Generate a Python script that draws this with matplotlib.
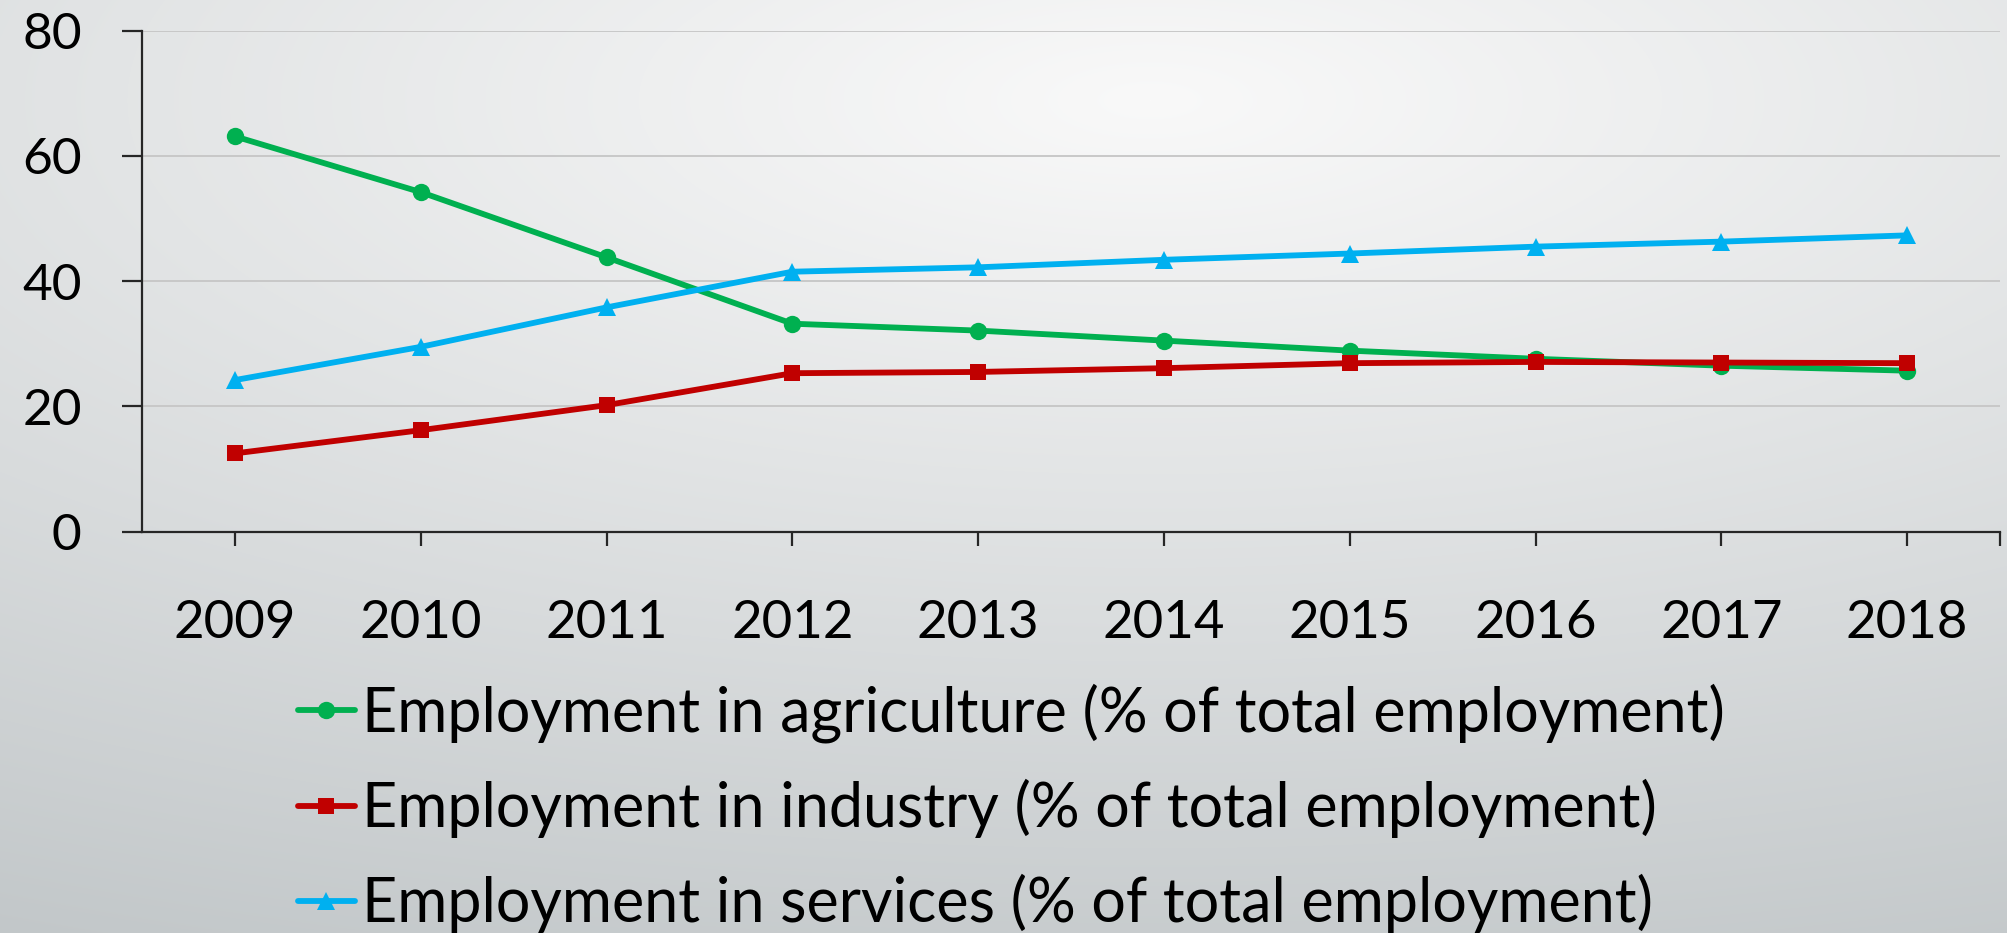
import numpy as np
import matplotlib
matplotlib.use("Agg")
import matplotlib.pyplot as plt

# ---- data ----
years = ["2009", "2010", "2011", "2012", "2013", "2014", "2015", "2016", "2017", "2018"]
agriculture = [63.1, 54.2, 43.8, 33.2, 32.1, 30.5, 28.9, 27.6, 26.5, 25.7]
industry = [12.5, 16.2, 20.2, 25.3, 25.5, 26.1, 26.9, 27.1, 27.0, 26.9]
services = [24.2, 29.5, 35.8, 41.5, 42.2, 43.4, 44.4, 45.5, 46.3, 47.3]
y_ticks = [0, 20, 40, 60, 80]
series_labels = [
    "Employment in agriculture (% of total employment)",
    "Employment in industry (% of total employment)",
    "Employment in services (% of total employment)",
]

W, H = 2007, 933
FONT = ["Lato", "DejaVu Sans"]
plt.rcParams["font.family"] = FONT

fig = plt.figure(figsize=(W / 100, H / 100), dpi=100)

# background radial gradient
bg = fig.add_axes([0, 0, 1, 1], zorder=-10)
yy, xx = np.mgrid[0:H, 0:W]
t = np.sqrt(((xx - 1150) * 0.000391) ** 2 + ((yy - 100) * 0.00107) ** 2)
t = np.clip(t, 0, 1)
c0 = np.array([249, 249, 249]) / 255.0
c1 = np.array([194, 199, 201]) / 255.0
img = c0 + (c1 - c0) * t[..., None]
bg.imshow(img, aspect="auto", extent=[0, 1, 0, 1])
bg.axis("off")

ax = fig.add_axes([142 / W, 1 - 531.7 / H, (2000 - 142) / W, (531.7 - 30.5) / H])
ax.patch.set_alpha(0)

x = np.arange(len(years))
styles = [
    dict(color="#00B050", marker="o", ms=12.5),
    dict(color="#C00000", marker="s", ms=12),
    dict(color="#00B0F0", marker="^", ms=13.5),
]
handles = []
for vals, st, lab in zip([agriculture, industry, services], styles, series_labels):
    (ln,) = ax.plot(x, vals, color=st["color"], lw=4.2, marker=st["marker"],
                    ms=st["ms"], mew=0, label=lab, solid_capstyle="round", zorder=3)
    handles.append(ln)

ax.set_xlim(-0.5, len(years) - 0.5)
ax.set_ylim(0, 80)
ax.set_yticks(y_ticks)
ax.set_xticks(x)
ax.set_xticklabels(years)
ax.set_xticks([len(years) - 0.5], minor=True)

for s in ["top", "right"]:
    ax.spines[s].set_visible(False)
for s in ["left", "bottom"]:
    ax.spines[s].set_color("#262626")
    ax.spines[s].set_linewidth(1.6)

ax.yaxis.grid(True, color="#c8c8c8", lw=1.4)
ax.set_axisbelow(True)
ax.tick_params(axis="y", length=14.4, width=1.6, color="#262626", pad=29,
               labelsize=37, labelcolor="black")
ax.tick_params(axis="x", which="both", length=10, width=1.6, color="#262626", pad=39,
               labelsize=38, labelcolor="black")

leg = fig.legend(handles=handles, loc="upper left", bbox_to_anchor=(298 / W, 1 - 683 / H),
                 frameon=False, borderpad=0, borderaxespad=0, handlelength=0.93,
                 handletextpad=0.12, labelspacing=0.59, fontsize=43.9, numpoints=1)

fig.savefig("out.png", dpi=100)
